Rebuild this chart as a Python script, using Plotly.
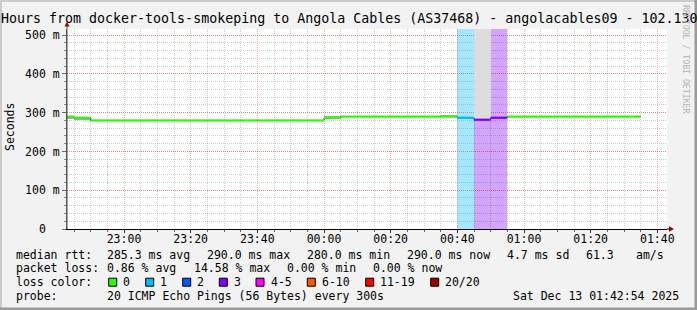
import plotly.graph_objects as go
import pandas as pd

# ---------------- data ----------------
interval_start = [
    "2025-12-12 22:40:00", "2025-12-12 22:45:00", "2025-12-12 22:50:00", "2025-12-12 22:55:00",
    "2025-12-12 23:00:00", "2025-12-12 23:05:00", "2025-12-12 23:10:00", "2025-12-12 23:15:00",
    "2025-12-12 23:20:00", "2025-12-12 23:25:00", "2025-12-12 23:30:00", "2025-12-12 23:35:00",
    "2025-12-12 23:40:00", "2025-12-12 23:45:00", "2025-12-12 23:50:00", "2025-12-12 23:55:00",
    "2025-12-13 00:00:00", "2025-12-13 00:05:00", "2025-12-13 00:10:00", "2025-12-13 00:15:00",
    "2025-12-13 00:20:00", "2025-12-13 00:25:00", "2025-12-13 00:30:00", "2025-12-13 00:35:00",
    "2025-12-13 00:40:00", "2025-12-13 00:45:00", "2025-12-13 00:50:00", "2025-12-13 00:55:00",
    "2025-12-13 01:00:00", "2025-12-13 01:05:00", "2025-12-13 01:10:00", "2025-12-13 01:15:00",
    "2025-12-13 01:20:00", "2025-12-13 01:25:00", "2025-12-13 01:30:00",
]
median_rtt_ms = [290, 287, 280, 280, 280, 280, 280, 280, 280, 280, 280, 280, 280, 280, 280, 280,
                 287, 290, 290, 290, 290, 290, 290, 290, 287, 282, 287, 290, 290, 290, 290, 290,
                 290, 290, 290]
loss_pings = [0, 0, 0, 0, 0, 0, 0, 0, 0, 0, 0, 0, 0, 0, 0, 0,
              0, 0, 0, 0, 0, 0, 0, 0, 1, 3, 3, 0, 0, 0, 0, 0,
              0, 0, 0]
smoke_lo_ms = [285, 280, 280, 280, 280, 280, 280, 280, 280, 280, 280, 280, 280, 280, 280, 280,
               287, 290, 290, 290, 290, 290, 290, 290, 287, 282, 287, 290, 290, 290, 290, 290,
               290, 290, 290]
smoke_hi_ms = [290, 287, 280, 280, 280, 280, 280, 280, 280, 280, 280, 280, 280, 280, 280, 280,
               291, 290, 290, 290, 290, 290, 290, 293, 287, 700, 287, 290, 290, 290, 290, 290,
               290, 290, 290]

y_tick_values_s = [0, 0.1, 0.2, 0.3, 0.4, 0.5]
y_tick_labels = ["0\u00a0\u00a0", "100 m", "200 m", "300 m", "400 m", "500 m"]

loss_labels = ["0", "1", "2", "3", "4-5", "6-10", "11-19", "20/20"]
loss_colors = ["#26ff00", "#00b8ff", "#0059ff", "#7e00ff", "#ff00ff", "#ff5500", "#ff0000", "#a10000"]

title_text = "Hours from docker-tools-smokeping to Angola Cables (AS37468) - angolacables09 - 102.130"
rtt_stats = ["285.3 ms avg", "290.0 ms max", "280.0 ms min", "290.0 ms now", "4.7 ms sd", "61.3", "am/s"]
loss_stats = ["0.86 % avg", "14.58 % max", "0.00 % min", "0.00 % now"]
probe_text = "20 ICMP Echo Pings (56 Bytes) every 300s"
stamp_text = "Sat Dec 13 01:42:54 2025"

view_start = "2025-12-12 22:42:54"
view_end = "2025-12-13 01:42:54"

# ---------------- layout constants ----------------
W, H = 697, 310
L, R, T, B = 67, 667, 29, 229
Y_TOP = 0.516
FONT = "DejaVu Sans Mono"


def px(xp):
    return (xp - L) / (R - L)


def py(yp):
    return (B - yp) / (B - T)


def loss_class(n):
    if n <= 3:
        return n
    if n <= 5:
        return 4
    if n <= 10:
        return 5
    if n <= 19:
        return 6
    return 7


def rgba(hexc, a):
    h = hexc.lstrip("#")
    r, g, b = int(h[0:2], 16), int(h[2:4], 16), int(h[4:6], 16)
    return f"rgba({r},{g},{b},{a})"


starts = pd.to_datetime(interval_start)
step = pd.Timedelta(seconds=300)
ends = starts + step
med_s = [v / 1000 for v in median_rtt_ms]
classes = [loss_class(n) for n in loss_pings]

fig = go.Figure()

# loss background bands
for c in sorted(set(classes)):
    if c == 0:
        continue
    xs = [s for s, k in zip(starts, classes) if k == c]
    fig.add_trace(go.Bar(
        x=xs, y=[1.0] * len(xs), base=0, width=300000, offset=0,
        marker=dict(color=rgba(loss_colors[c], 0.35), line=dict(width=0)),
        hoverinfo="skip"))

# smoke
sm_x, sm_base, sm_h, sm_col = [], [], [], []
for s, lo, hi in zip(starts, smoke_lo_ms, smoke_hi_ms):
    if hi > lo:
        sm_x.append(s)
        sm_base.append(lo / 1000)
        sm_h.append((hi - lo) / 1000)
        sm_col.append("#dcdcdc" if hi - lo > 50 else "#a8a8a8")
fig.add_trace(go.Bar(
    x=sm_x, y=sm_h, base=sm_base, width=300000, offset=0,
    marker=dict(color=sm_col, line=dict(width=0)), hoverinfo="skip"))

# thin dark step outline (vertical connectors)
fig.add_trace(go.Scatter(
    x=list(starts) + [ends[-1]], y=med_s + [med_s[-1]], mode="lines",
    line=dict(color="#404040", width=1, shape="hv"), hoverinfo="skip"))

# loss-coloured median segments
for c in sorted(set(classes)):
    xs, ys = [], []
    for s, e, v, k in zip(starts, ends, med_s, classes):
        if k == c:
            xs += [s, e, None]
            ys += [v, v, None]
    fig.add_trace(go.Scatter(x=xs, y=ys, mode="lines",
                             line=dict(color=loss_colors[c], width=2.2), hoverinfo="skip"))

# ---------------- annotations ----------------
ann = []


def text(x, y, s, size=11.5, anchor="left", color="black", angle=0):
    ann.append(dict(x=px(x), y=py(y), xref="paper", yref="paper", text=s, showarrow=False,
                    xanchor=anchor, yanchor="middle", textangle=angle,
                    font=dict(family=FONT, size=size, color=color),
                    borderpad=0, borderwidth=0))


text(348.5, 19, title_text, size=13.3, anchor="center")
text(10, 127, "Seconds", anchor="center", angle=-90)
text(686, 59, "RRDTOOL / TOBI OETIKER", size=8.2, anchor="center", color="#b4b4b4", angle=90)

row1 = [107.3, 207.3, 307.3, 407.3, 506.7, 586, 635.7]
text(16, 254.5, "median rtt:")
for xx, s in zip(row1, rtt_stats):
    text(xx, 254.5, s)
row2 = [107.3, 194, 286.7, 372.8]
text(16, 268.3, "packet loss:")
for xx, s in zip(row2, loss_stats):
    text(xx, 268.3, s)
text(16, 282.2, "loss color:")
box_x = [108.7, 145.7, 182.7, 219.3, 256, 307.3, 365.7, 430.7]
shapes = []
for bx, lab, col in zip(box_x, loss_labels, loss_colors):
    shapes.append(dict(type="rect", xref="paper", yref="paper",
                       x0=px(bx), x1=px(bx + 8), y0=py(278.2), y1=py(286.2),
                       fillcolor=col, line=dict(color="black", width=1)))
    text(bx + 14.6, 282.2, lab)
text(16, 296, "probe:")
text(107.3, 296, probe_text)
text(513.3, 296, stamp_text)

# image frame (3D border)
shapes += [
    dict(type="rect", xref="paper", yref="paper", x0=px(0), x1=px(W), y0=py(0), y1=py(2),
         fillcolor="#cbcbcb", line=dict(width=0), layer="below"),
    dict(type="rect", xref="paper", yref="paper", x0=px(0), x1=px(2), y0=py(0), y1=py(H),
         fillcolor="#cbcbcb", line=dict(width=0), layer="below"),
    dict(type="rect", xref="paper", yref="paper", x0=px(0), x1=px(W), y0=py(H - 2.5), y1=py(H),
         fillcolor="#9a9a9a", line=dict(width=0), layer="below"),
    dict(type="rect", xref="paper", yref="paper", x0=px(W - 2.5), x1=px(W), y0=py(0), y1=py(H),
         fillcolor="#9a9a9a", line=dict(width=0), layer="below"),
]
# axis extensions and arrows
shapes += [
    dict(type="line", xref="paper", yref="paper", x0=px(L), x1=px(L), y0=py(B), y1=py(24),
         line=dict(color="#555555", width=1)),
    dict(type="path", xref="paper", yref="paper",
         path=f"M {px(64.5)} {py(26.5)} L {px(69.5)} {py(26.5)} L {px(67)} {py(21.5)} Z",
         fillcolor="#a00000", line=dict(width=0)),
    dict(type="line", xref="paper", yref="paper", x0=px(R), x1=px(670), y0=py(B), y1=py(B),
         line=dict(color="black", width=1)),
    dict(type="path", xref="paper", yref="paper",
         path=f"M {px(669)} {py(226.3)} L {px(669)} {py(231.7)} L {px(674)} {py(229)} Z",
         fillcolor="#a00000", line=dict(width=0)),
]

major_grid = "rgba(255,0,0,0.32)"
minor_grid = "rgba(120,120,120,0.38)"

fig.update_layout(
    width=W, height=H,
    margin=dict(l=L, r=W - R, t=T, b=H - B, pad=0),
    paper_bgcolor="#f2f2f2", plot_bgcolor="white",
    showlegend=False, hovermode=False, barmode="overlay", bargap=0,
    annotations=ann, shapes=shapes,
    font=dict(family=FONT, size=11.5, color="black"),
    xaxis=dict(
        type="date", range=[view_start, view_end], fixedrange=True,
        tick0="2025-12-12 23:00:00", dtick=1200000, tickformat="%H:%M",
        showgrid=True, gridcolor=major_grid, griddash="1px,1px", gridwidth=1,
        ticks="outside", ticklen=3, tickcolor="#333333", ticklabelstandoff=-4,
        showline=True, linecolor="black", linewidth=1, zeroline=False,
        tickfont=dict(family=FONT, size=11.5, color="black"),
        minor=dict(dtick=300000, tick0="2025-12-12 23:00:00", showgrid=True,
                   gridcolor=minor_grid, griddash="1px,1px", gridwidth=1,
                   ticks="outside", ticklen=2, tickcolor="#666666"),
    ),
    yaxis=dict(
        range=[0, Y_TOP], fixedrange=True,
        tickmode="array", tickvals=y_tick_values_s, ticktext=y_tick_labels,
        showgrid=True, gridcolor=major_grid, griddash="1px,1px", gridwidth=1,
        ticks="outside", ticklen=4, tickcolor="#666666",
        showline=True, linecolor="#555555", linewidth=1, zeroline=False,
        tickfont=dict(family=FONT, size=11.5, color="black"),
        minor=dict(dtick=0.02, tick0=0, showgrid=True, gridcolor=minor_grid,
                   griddash="1px,1px", gridwidth=1, ticks="outside", ticklen=2,
                   tickcolor="#888888"),
    ),
)

fig.write_html("out.html")
